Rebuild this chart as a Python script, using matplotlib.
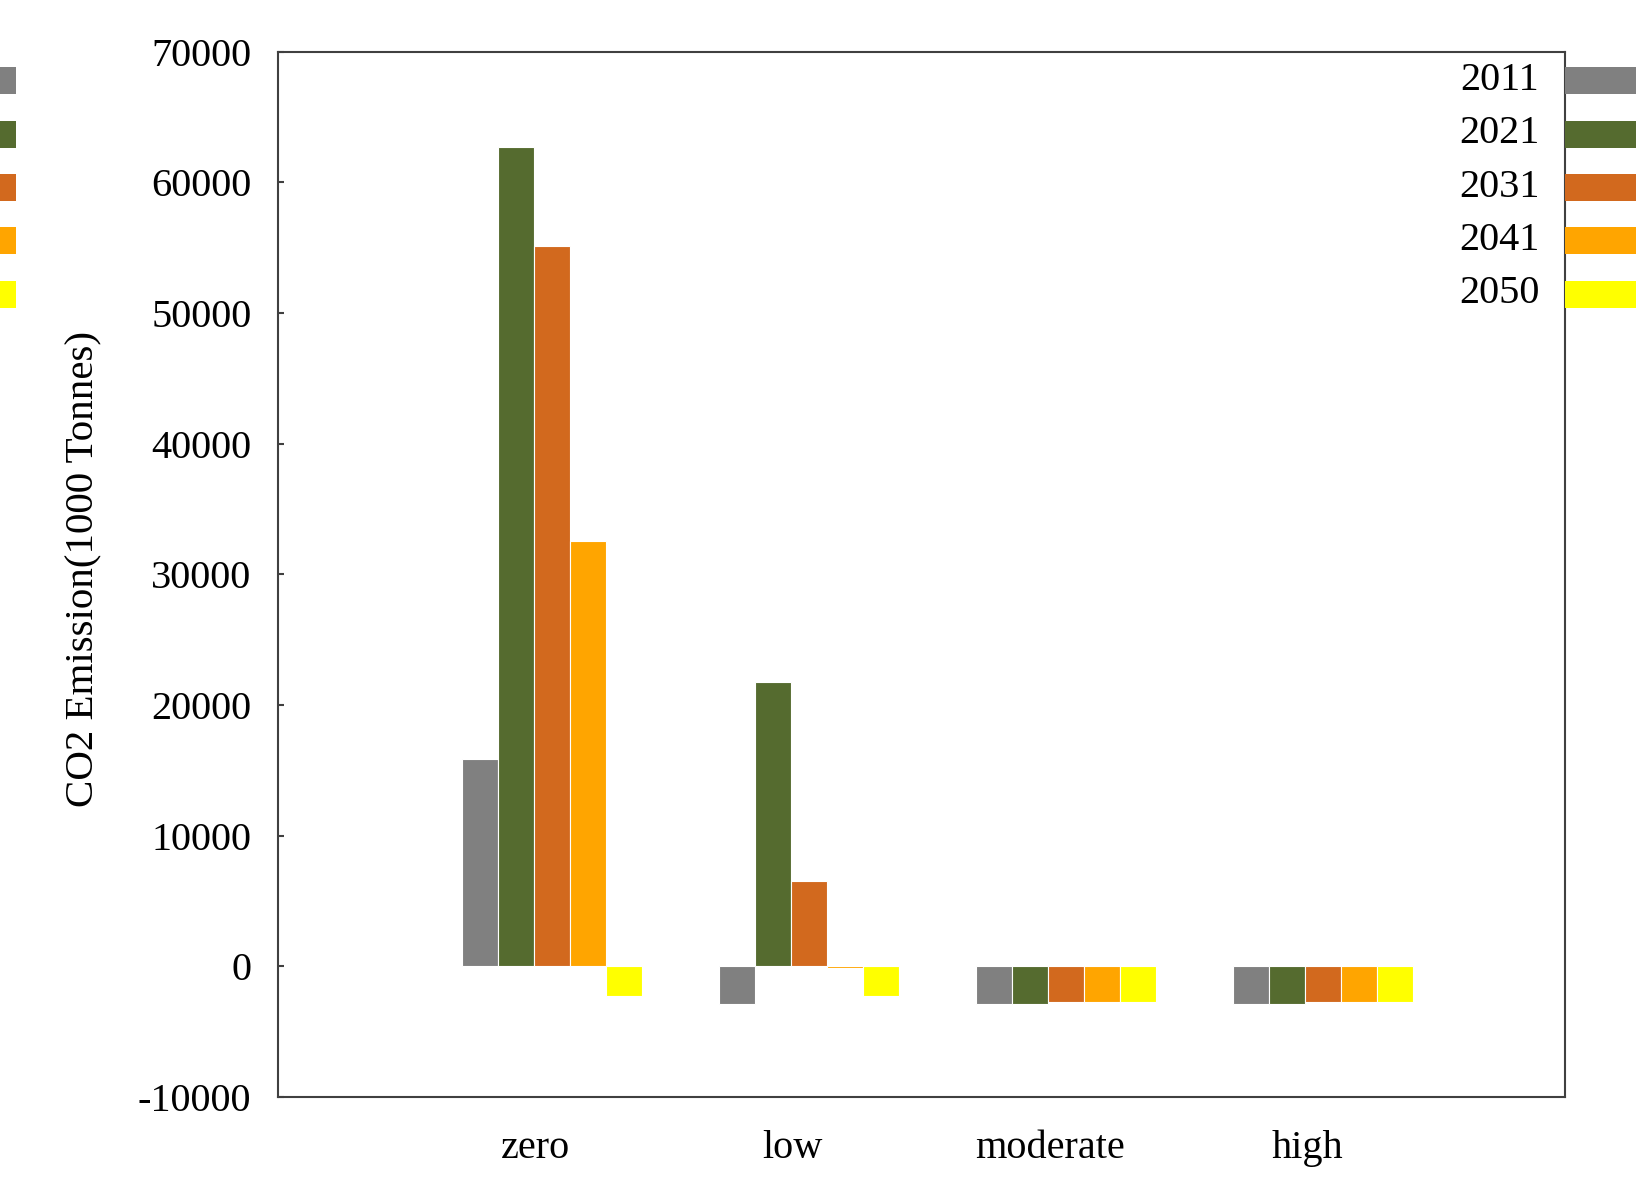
import numpy as np
import matplotlib
matplotlib.use('Agg')
import matplotlib.pyplot as plt
from matplotlib.patches import Patch, Rectangle
from matplotlib.legend_handler import HandlerPatch

plt.rcParams['font.family'] = ['Liberation Serif', 'DejaVu Serif']

# ------ data ------
scenarios = ['zero', 'low', 'moderate', 'high']
years = ['2011', '2021', '2031', '2041', '2050']
y2011 = [15870, -2850, -2850, -2850]
y2021 = [62690, 21730, -2850, -2850]
y2031 = [55140, 6560, -2750, -2750]
y2041 = [32580, -150, -2750, -2750]
y2050 = [-2300, -2300, -2750, -2750]
y_ticks = [-10000, 0, 10000, 20000, 30000, 40000, 50000, 60000, 70000]

series = [y2011, y2021, y2031, y2041, y2050]
colors = ['#808080', '#556B2F', '#D2691E', '#FFA500', '#FFFF00']
FS = 29


def low_patch(legend, orig_handle, xdescent, ydescent, width, height, fontsize):
    # legend key sits a little below the text baseline, like the original
    return Rectangle((-xdescent, -ydescent - 0.11 * fontsize), width, 0.67 * fontsize)


# ------ figure ------
fig = plt.figure(figsize=(16.36, 11.88), dpi=100)
ax = fig.add_axes([0.1702, 0.0766, 0.7862, 0.8799])

x = np.arange(len(scenarios))
w = 0.14
for i, vals in enumerate(series):
    ax.bar(x + (i - 1.5) * w - 0.008, vals, width=w, color=colors[i],
           edgecolor='white', linewidth=0.8)

ax.set_xlim(-1, 4)
ax.set_ylim(-10000, 70000)
ax.set_xticks(x)
ax.set_xticklabels(scenarios)
ax.set_yticks(y_ticks)
ax.set_yticklabels([str(t) for t in y_ticks])

ax.tick_params(axis='x', length=0, pad=24, labelsize=FS)
ax.tick_params(axis='y', direction='in', length=4.3, width=1.5,
               color='#404040', pad=19.5, labelsize=FS)
for s in ax.spines.values():
    s.set_color('#404040')
    s.set_linewidth(1.5)

ax.set_ylabel('CO2 Emission(1000 Tonnes)', fontsize=29.5)
ax.yaxis.set_label_coords(-0.137, 0.505)

# --- legends
handles = [Patch(facecolor=c, edgecolor='none') for c in colors]
hmap = {Patch: HandlerPatch(patch_func=low_patch)}
fig.legend(handles, years, loc='upper right', bbox_to_anchor=(1.0306, 0.948),
           frameon=False, markerfirst=False, handlelength=3.0,
           handletextpad=0.645, labelspacing=0.40, borderpad=0, borderaxespad=0,
           fontsize=FS, handler_map=hmap)
fig.legend(handles, [''] * len(years), loc='upper left',
           bbox_to_anchor=(-0.0149, 0.948), frameon=False,
           handlelength=1.0, handletextpad=0, labelspacing=0.40, borderpad=0,
           borderaxespad=0, fontsize=FS, handler_map=hmap)

fig.savefig('out.png', dpi=100)
